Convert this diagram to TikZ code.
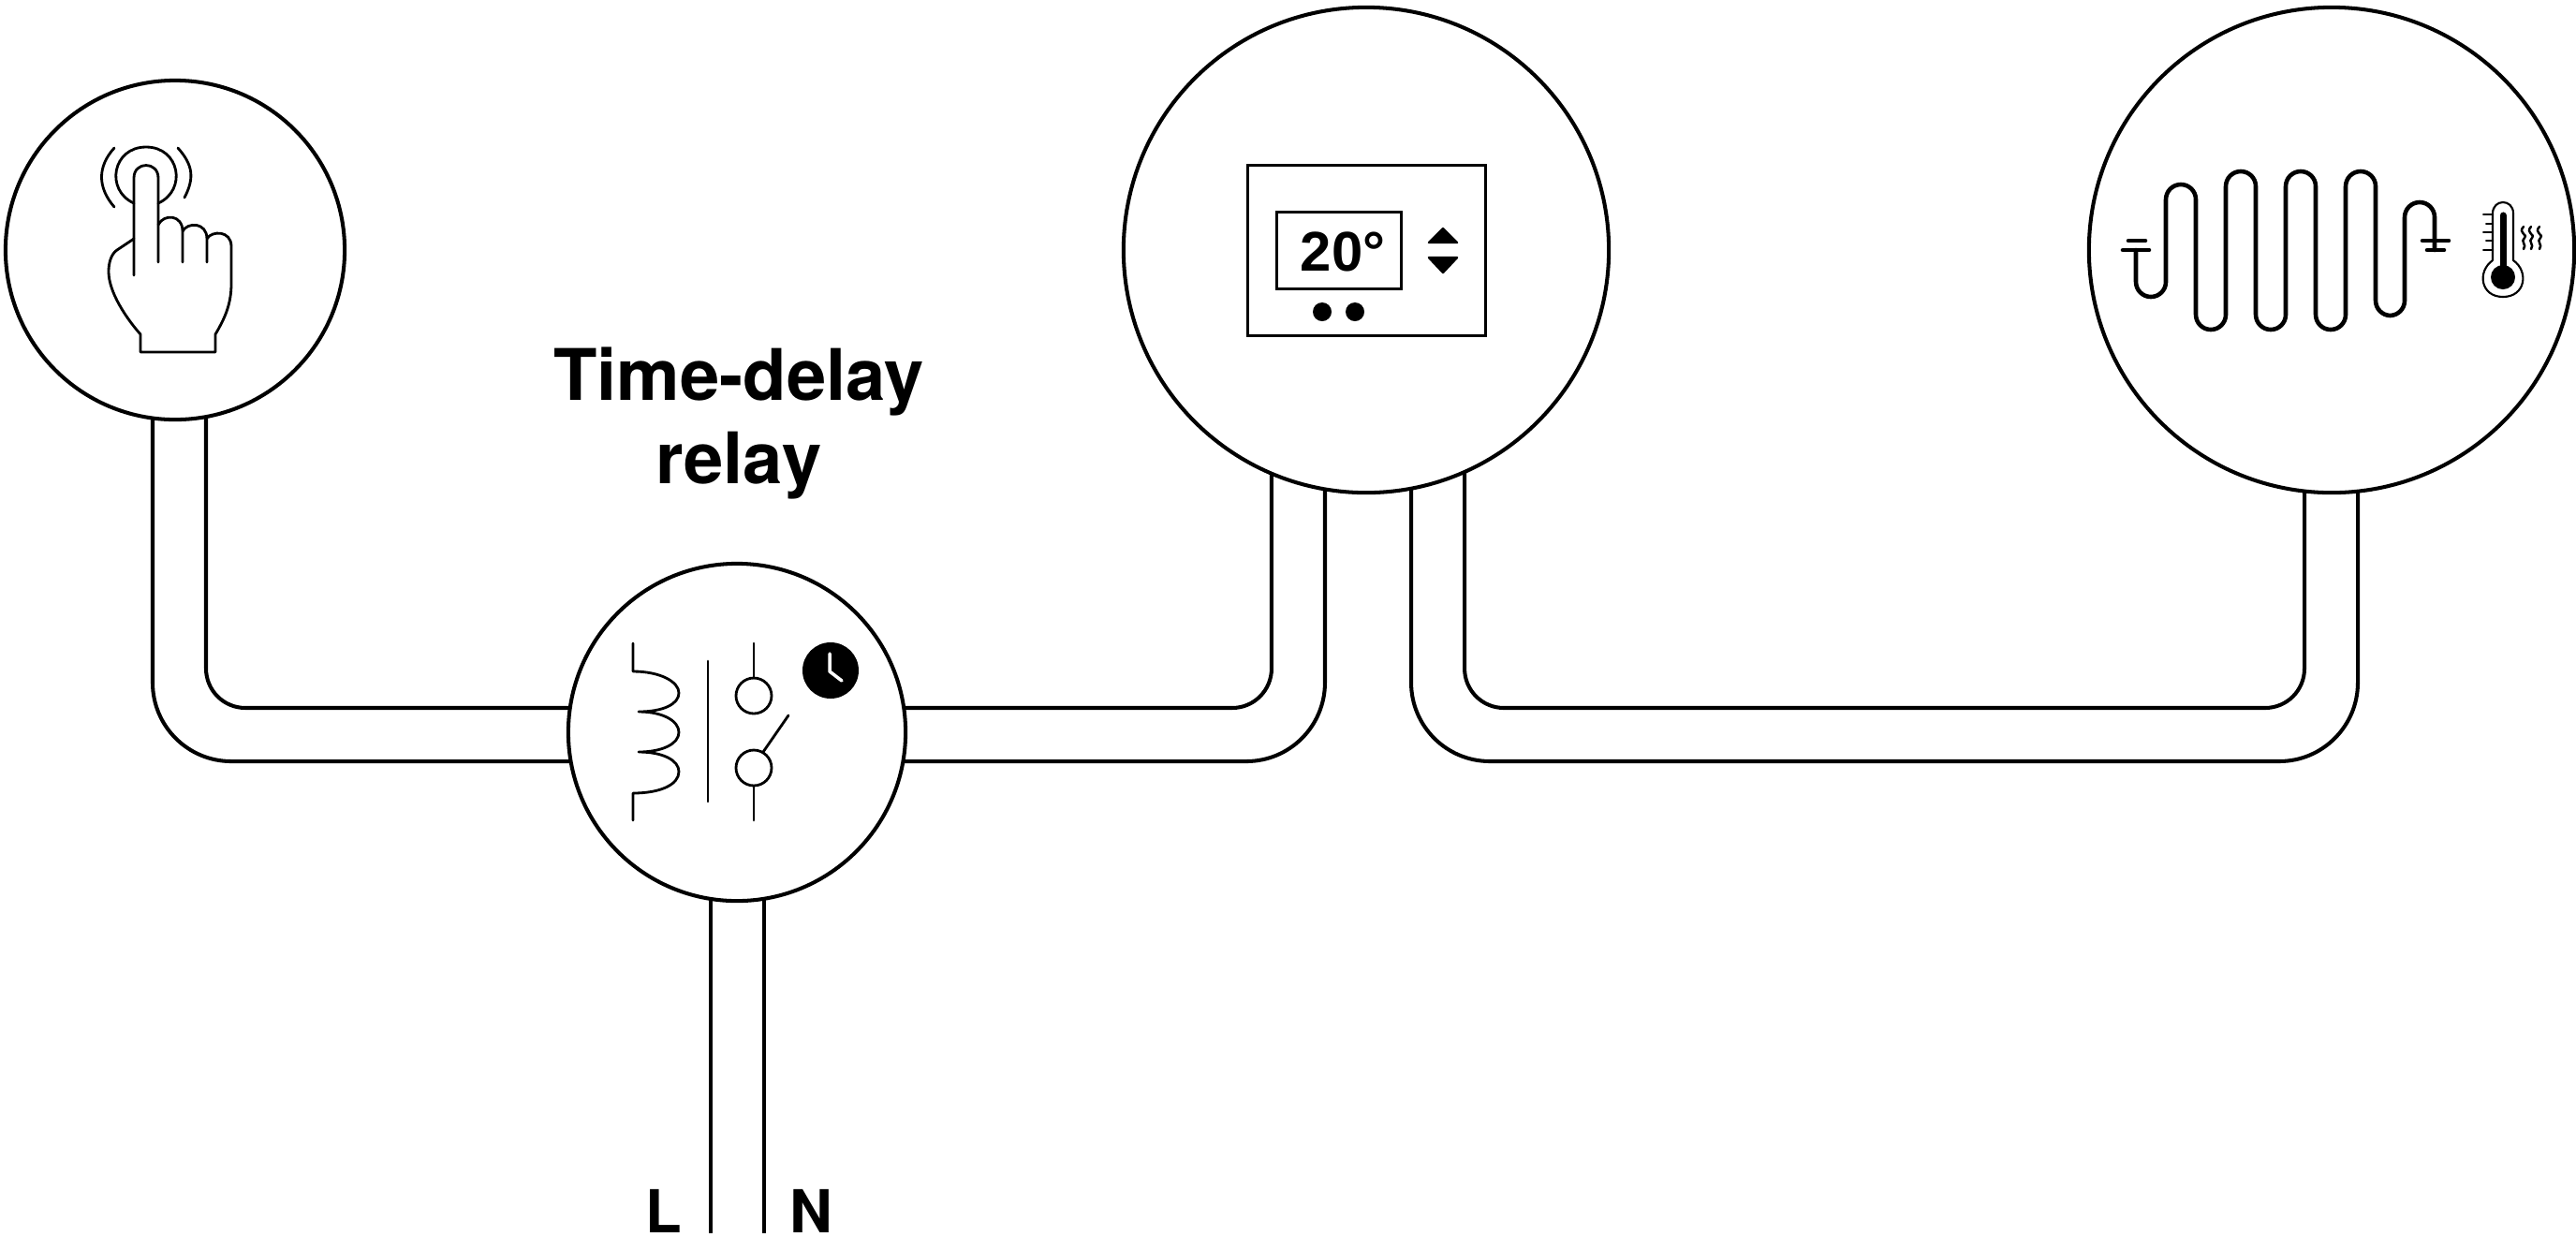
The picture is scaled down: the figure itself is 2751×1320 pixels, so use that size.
\documentclass[tikz,border=0pt]{standalone}
\usepackage{fontspec}
\setmainfont{TeX Gyre Heros}
\newfontfamily\readout{Liberation Sans}
\usetikzlibrary{backgrounds}
\tikzset{every node/.style={inner sep=0pt, outer sep=0pt},
	disc/.style={circle, draw, fill=white, line width=1.15pt},
	wire/.style={line width=1.15pt},
	inner bend/.style={wire, rounded corners=0.42cm},
	outer bend/.style={wire, rounded corners=0.84cm},
	icon/.style={line width=0.8pt, line cap=round, line join=round},
	coil/.style={line width=1.3pt, line cap=round, line join=round},
	label/.style={font=\bfseries\fontsize{18pt}{20pt}\selectfont, anchor=base}}

\begin{document}
\begin{tikzpicture}[x=0.01cm, y=-0.01cm]
		\useasboundingbox (0,0) rectangle (2751,1320);
		
		\node[disc, minimum size=3.62cm] (B) at (187,267) {};
		\node[disc, minimum size=3.60cm] (R) at (787,782) {};
		\node[disc, minimum size=5.18cm] (T) at (1459,267) {};
		\node[disc, minimum size=5.18cm] (H) at (2490,267) {};
		
		\coordinate (Lend) at (759,1317);
		\coordinate (Nend) at (816,1317);
		\coordinate (Hout) at (2518,813);
		\coordinate (Hin) at (2461,756);
		
		\begin{pgfonlayer}{background}
			\draw[outer bend] ([xshift=-0.24cm]B.center) |- ([yshift=-0.31cm]R.center);
			\draw[inner bend] ([xshift=0.33cm]B.center) |- ([yshift=0.26cm]R.center);
			\draw[inner bend] ([yshift=0.26cm]R.center) -| ([xshift=-1.01cm]T.center);
			\draw[outer bend] ([yshift=-0.31cm]R.center) -| ([xshift=-0.44cm]T.center);
			\draw[outer bend] ([xshift=0.48cm]T.center) |- (Hout) -- ([xshift=0.28cm]H.center);
			\draw[inner bend] ([xshift=1.05cm]T.center) |- (Hin) -- ([xshift=-0.29cm]H.center);
			\draw[wire] (R.center -| Lend) -- (Lend);
			\draw[wire] (R.center -| Nend) -- (Nend);
		\end{pgfonlayer}
		
		\node[align=center, font=\bfseries\fontsize{21.6pt}{25.2pt}\selectfont] (Title) at (789,452) {Time-delay\\relay};
		\node[label] (L) at (709,1316) {L};
		\node[label] (N) at (866,1316) {N};
		
		\draw[icon] (143,294) -- (143,190) .. controls (143,172) and (169,172) .. (169,190) -- (169,280);
		\draw[icon] (143,217) .. controls (112,203) and (120,157) .. (156,157) .. controls (192,157) and (200,203) .. (169,217);
		\draw[icon] (122,158) .. controls (104,178) and (104,200) .. (122,221);
		\draw[icon] (190,158) .. controls (206,176) and (208,190) .. (197,211);
		\draw[icon] (169,240) .. controls (175,228) and (195,229) .. (195,247) -- (195,280);
		\draw[icon] (195,247) .. controls (200,237) and (221,237) .. (221,255) -- (221,280);
		\draw[icon] (221,255) .. controls (226,246) and (247,246) .. (247,263) -- (247,303)
			.. controls (247,325) and (240,340) .. (230,357) -- (230,376) -- (150,376) -- (150,357)
			.. controls (135,340) and (116,312) .. (116,290) .. controls (116,280) and (119,271) .. (125,267) -- (143,255);
		
		\draw[icon] (676,687) -- (676,717) .. controls (705,717) and (725,728) .. (725,740)
			.. controls (725,752) and (708,760) .. (682,760) .. controls (708,760) and (725,770) .. (725,782)
			.. controls (725,794) and (708,803) .. (682,803) .. controls (708,803) and (725,812) .. (725,824)
			.. controls (725,838) and (705,847) .. (676,847) -- (676,876);
		\draw[icon] (756,706) -- (756,856);
		\draw[icon] (805,687) -- (805,724);
		\draw[icon] (805,743) circle (19);
		\draw[icon] (805,820) circle (19);
		\draw[icon] (805,839) -- (805,876);
		\draw[icon] (815,803) -- (842,764);
		\fill (887,716) circle (30);
		\draw[icon, white, line width=1pt] (886,698) -- (886,717) -- (899,727);
		
		\draw[line width=0.85pt] (1332,176) rectangle (1586,358);
		\draw[line width=0.85pt] (1363,226) rectangle (1496,308);
		\node[font=\readout\bfseries\fontsize{17pt}{18pt}\selectfont, anchor=base] (Temp) at (1434,289) {20°};
		\fill (1412,333) circle (10);
		\fill (1447,333) circle (10);
		\fill[line join=round, draw, line width=0.7pt] (1541,244) -- (1556,259) -- (1526,259) -- cycle;
		\fill[line join=round, draw, line width=0.7pt] (1541,291) -- (1556,275) -- (1526,275) -- cycle;
		
		\draw[coil, rounded corners=0.16cm] (2281,267) -- (2281,317) -- (2313,317) -- (2313,197) -- (2345,197)
			-- (2345,352) -- (2377,352) -- (2377,183) -- (2409,183) -- (2409,352) -- (2441,352)
			-- (2441,183) -- (2473,183) -- (2473,352) -- (2505,352) -- (2505,183) -- (2537,183)
			-- (2537,337) -- (2568,337) -- (2568,216) -- (2600,216) -- (2600,267);
		\draw[coil] (2273,257) -- (2291,257);
		\draw[coil] (2267,267) -- (2295,267);
		\draw[coil] (2587,257) -- (2615,257);
		\draw[coil] (2592,267) -- (2610,267);
		
		\draw[icon, line width=0.6pt] (2662,278) -- (2662,228) .. controls (2662,212) and (2684,212) .. (2684,228) -- (2684,278)
			.. controls (2701,290) and (2697,317) .. (2673,317) .. controls (2649,317) and (2645,290) .. (2662,278);
		\draw[icon, line width=2pt] (2673,230) -- (2673,290);
		\fill (2673,296) circle (13);
		\foreach \y/\x in {229/2652, 239/2655, 248/2652, 257/2655, 267/2652}
			\draw[icon, line width=0.6pt] (\x,\y) -- (2662,\y);
		\foreach \x in {2695, 2703, 2712}
			\draw[icon, line width=0.7pt] (\x,242) .. controls (\x-7,249) and (\x+6,251) .. (\x+1,254) .. controls (\x-4,258) and (\x+4,261) .. (\x,266);
	\end{tikzpicture}
\end{document}
